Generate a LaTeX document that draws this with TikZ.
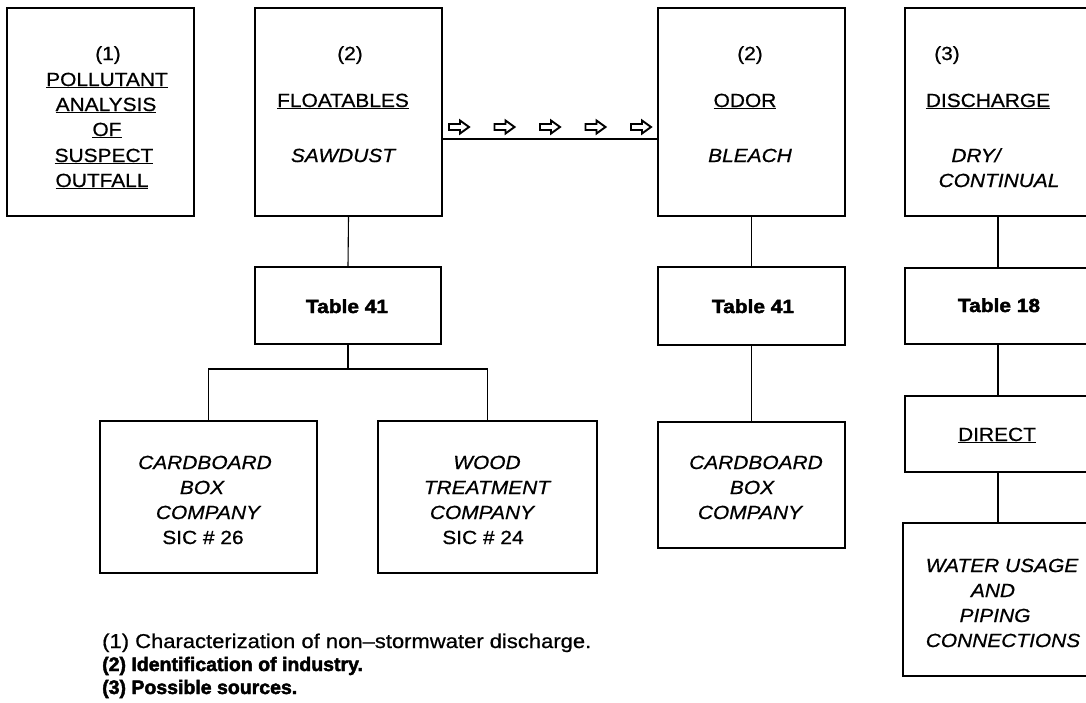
\documentclass[tikz,border=0pt]{standalone}
\usepackage{fontspec}
\setmainfont{Liberation Sans}[FakeStretch=1.1, UprightFeatures={FakeBold=0.7}, ItalicFeatures={FakeBold=0.7}, BoldFeatures={FakeBold=2.2}]
\newfontfamily\notefont{Liberation Sans}[UprightFeatures={FakeBold=0.7}, BoldFeatures={FakeBold=2.2}]
\newcommand{\ulx}[1]{\underline{#1}}
\begin{document}
\begin{tikzpicture}[x=1pt,y=-1pt,
  box/.style={draw, line width=1.1pt, rectangle, inner sep=0pt},
  conn/.style={line width=1.1pt},
  txt/.style={inner sep=0pt, anchor=base, font=\fontsize{19}{23}\selectfont},
  itx/.style={txt, font=\fontsize{19}{23}\selectfont\itshape},
  bfx/.style={txt, font=\fontsize{19}{23}\selectfont\bfseries},
  note/.style={inner sep=0pt, anchor=base west, font=\fontsize{20}{23}\selectfont},
  notebold/.style={inner sep=0pt, anchor=base west, font=\fontsize{19.5}{23}\notefont\bfseries},
  hollowarrow/.pic={\draw[line width=1.9pt, line join=miter, miter limit=4]
     (-10,-3) -- (1,-3) -- (1,-6.5) -- (10,0) -- (1,6.5) -- (1,3) -- (-10,3) -- cycle;}
]
\useasboundingbox (0,0) rectangle (1086,702);
\clip (0,0) rectangle (1086,702);
\fill[white] (0,0) rectangle (1086,702);

% top row boxes
\node[box, minimum width=187pt, minimum height=208pt] (b1) at (100.5,112) {};
\node[box, minimum width=187pt, minimum height=208pt] (fl) at (348.5,112) {};
\node[box, minimum width=187pt, minimum height=208pt] (od) at (751.5,112) {};
\node[box, minimum width=186pt, minimum height=208pt] (dis) at (998,112) {};
% table boxes
\node[box, minimum width=186pt, minimum height=77pt] (ta) at (348,305.5) {};
\node[box, minimum width=187pt, minimum height=78pt] (tb) at (751.5,306) {};
\node[box, minimum width=186pt, minimum height=76pt] (tc) at (998,306) {};
\node[box, minimum width=186pt, minimum height=76pt] (dir) at (998,434) {};
\node[box, minimum width=190pt, minimum height=153pt] (wat) at (998,599.5) {};
% company boxes
\node[box, minimum width=217pt, minimum height=152pt] (cb1) at (208.5,497) {};
\node[box, minimum width=219pt, minimum height=152pt] (wd) at (487.5,497) {};
\node[box, minimum width=187pt, minimum height=126pt] (cb2) at (751.5,485) {};

% connectors
\coordinate (hl) at (442,139);
\coordinate (j) at (348,369);
\draw[conn] (fl.east |- hl) -- (od.west |- hl);
\draw[conn] (fl.south) -- (ta.north);
\draw[conn] (ta.south) -- (j);
\draw[conn] (cb1.north) |- (j) -| (wd.north);
\draw[conn] (od.south) -- (tb.north);
\draw[conn] (tb.south) -- (cb2.north);
\draw[conn] (dis.south) -- (tc.north);
\draw[conn] (tc.south) -- (dir.north);
\draw[conn] (dir.south) -- (wat.north);

% hollow arrows
\foreach \ax in {459,504.5,550,595.5,641} \pic at (\ax,127) {hollowarrow};

% box 1 text
\node[txt] (b1a) at (108,60) {(1)};
\node[txt] (b1b) at (107,86) {\ulx{POLLUTANT}};
\node[txt] (b1c) at (106,111) {\ulx{ANALYSIS}};
\node[txt] (b1d) at (107,136) {\ulx{OF}};
\node[txt] (b1e) at (104,162) {\ulx{SUSPECT}};
\node[txt] (b1f) at (102,187) {\ulx{OUTFALL}};
% floatables
\node[txt] (fla) at (350,60) {(2)};
\node[txt] (flb) at (343,107) {\ulx{FLOATABLES}};
\node[itx] (flc) at (343,162) {SAWDUST};
% odor
\node[txt] (oda) at (750,60) {(2)};
\node[txt] (odb) at (745,107) {\ulx{ODOR}};
\node[itx] (odc) at (750,162) {BLEACH};
% discharge
\node[txt] (disa) at (947,60) {(3)};
\node[txt] (disb) at (988,107) {\ulx{DISCHARGE}};
\node[itx] (disc) at (976,162) {DRY/};
\node[itx] (disd) at (999,187) {CONTINUAL};
% tables
\node[bfx] (taa) at (347,313) {Table 41};
\node[bfx] (tba) at (753,313) {Table 41};
\node[bfx] (tca) at (999,312) {Table 18};
\node[txt] (dira) at (997,441) {\ulx{DIRECT}};
% companies
\node[itx] (cb1a) at (205,469) {CARDBOARD};
\node[itx] (cb1b) at (202,494) {BOX};
\node[itx] (cb1c) at (208,519) {COMPANY};
\node[txt] (cb1d) at (203,544) {SIC \# 26};
\node[itx] (wda) at (487,469) {WOOD};
\node[itx] (wdb) at (487,494) {TREATMENT};
\node[itx] (wdc) at (482,519) {COMPANY};
\node[txt] (wdd) at (483,544) {SIC \# 24};
\node[itx] (cb2a) at (756,469) {CARDBOARD};
\node[itx] (cb2b) at (752,494) {BOX};
\node[itx] (cb2c) at (750,519) {COMPANY};
% water
\node[itx] (wata) at (1002,572) {WATER USAGE};
\node[itx] (watb) at (993,597) {AND};
\node[itx] (watc) at (995,622) {PIPING};
\node[itx] (watd) at (1003,647) {CONNECTIONS};
% notes
\node[note] (n1) at (102,648) {(1) Characterization of non–stormwater discharge.};
\node[notebold] (n2) at (102,671) {(2) Identification of industry.};
\node[notebold] (n3) at (102,694) {(3) Possible sources.};
\end{tikzpicture}
\end{document}
